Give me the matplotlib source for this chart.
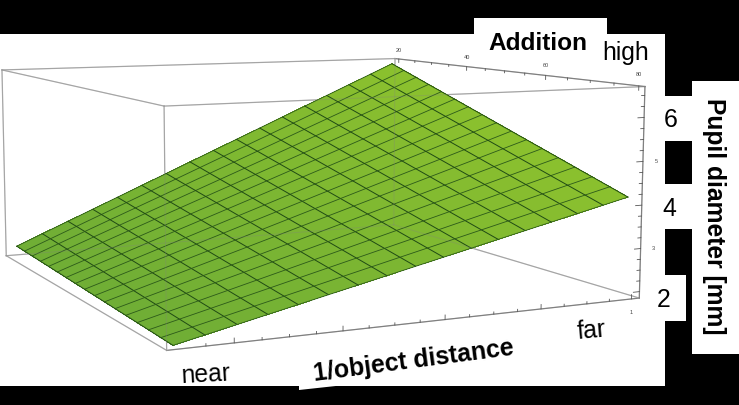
import numpy as np
import matplotlib
matplotlib.use('Agg')
import matplotlib.pyplot as plt
from matplotlib.colors import LinearSegmentedColormap
from matplotlib.patches import Polygon, Rectangle

plt.rcParams['font.family'] = ['Liberation Sans', 'DejaVu Sans']

W, H = 739, 406

# mesh lines of the surface
distance_mesh = [0.1, 0.156, 0.213, 0.269, 0.325, 0.381, 0.438, 0.494, 0.55,
                 0.606, 0.663, 0.719, 0.775, 0.831, 0.888, 0.944, 1.0]
addition_mesh = [20, 23.75, 27.5, 31.25, 35, 38.75, 42.5, 46.25, 50,
                 53.75, 57.5, 61.25, 65, 68.75, 72.5, 76.25, 80]

# pupil diameter read along the four edges of the surface
pupil_add_low = [2.12, 2.4, 2.68, 2.95, 3.23, 3.51, 3.79, 4.07, 4.35,
                 4.62, 4.9, 5.18, 5.46, 5.73, 6.01, 6.29, 6.57]
pupil_add_high = [1.88, 2.02, 2.17, 2.31, 2.45, 2.6, 2.74, 2.88, 3.03,
                  3.17, 3.31, 3.45, 3.6, 3.74, 3.88, 4.03, 4.17]
pupil_near = [2.12, 2.1, 2.09, 2.07, 2.06, 2.04, 2.03, 2.01, 2.0,
              1.98, 1.97, 1.95, 1.94, 1.92, 1.91, 1.89, 1.88]
pupil_far = [6.57, 6.42, 6.27, 6.12, 5.97, 5.82, 5.67, 5.52, 5.37,
             5.22, 5.07, 4.92, 4.77, 4.62, 4.47, 4.32, 4.17]

# axis ranges and ticks
x_lim = (0.082, 1.018)
y_lim = (18.8, 81.2)
z_lim = (1.85, 6.7)
x_ticks = [0.15, 0.2, 0.25, 0.3, 0.35, 0.4, 0.45, 0.5, 0.55, 0.6, 0.65, 0.7, 0.75, 0.8, 0.85, 0.9, 0.95, 1.0]
y_ticks = [20, 25, 30, 35, 40, 45, 50, 55, 60, 65, 70, 75, 80]
z_ticks = [2, 2.25, 2.5, 2.75, 3, 3.25, 3.5, 3.75, 4, 4.25, 4.5, 4.75, 5, 5.25, 5.5, 5.75, 6, 6.25, 6.5]

# where the corners of the box sit in the picture (camera calibration)
corners_3d = [(x_lim[0], y_lim[1], z_lim[0]), (x_lim[1], y_lim[1], z_lim[0]),
              (x_lim[1], y_lim[0], z_lim[0]), (x_lim[0], y_lim[0], z_lim[0]),
              (x_lim[0], y_lim[1], z_lim[1]), (x_lim[1], y_lim[1], z_lim[1]),
              (x_lim[1], y_lim[0], z_lim[1]), (x_lim[0], y_lim[0], z_lim[1])]
corners_px = [(167, 351), (639, 300), (394, 225), (6, 257),
              (164, 107), (645, 87), (395, 60), (2, 71)]
edges = [(0, 1), (1, 2), (2, 3), (3, 0), (4, 5), (5, 6), (6, 7), (7, 4),
         (0, 4), (1, 5), (2, 6), (3, 7)]
axis_edges = [(0, 1), (1, 5), (5, 6)]

fig = plt.figure(figsize=(W / 100, H / 100), dpi=100, facecolor='black')

# white cut-outs behind the plot, in pixels
bg = fig.add_axes([0, 0, 1, 1])
bg.set_xlim(0, W)
bg.set_ylim(H, 0)
bg.axis('off')
for x0, y0, x1, y1 in [(0, 35, 665, 387), (474, 19, 607, 40), (660, 97, 692, 142),
                       (660, 185, 692, 230), (660, 276, 686, 322), (692, 82, 739, 355)]:
    bg.add_patch(Rectangle((x0, y0), x1 - x0, y1 - y0, fc='white', ec='none'))
bg.add_patch(Polygon([(299, 386), (345, 386), (299, 391)], fc='white', ec='none'))

bg.text(538, 43, 'Addition', fontsize=17.6, fontweight='bold', ha='center', va='center')
bg.text(626, 53, 'high', fontsize=17.8, ha='center', va='center')
bg.text(671, 120, '6', fontsize=17.8, ha='center', va='center')
bg.text(669, 209, '4', fontsize=17.8, ha='center', va='center')
bg.text(664, 300, '2', fontsize=17.8, ha='center', va='center')
bg.text(714, 216, 'Pupil diameter [mm]', fontsize=17.7, fontweight='bold', rotation=-90,
        ha='center', va='center')
bg.text(414, 361, '1/object distance', fontsize=17.9, fontweight='bold', rotation=7.5,
        ha='center', va='center', rotation_mode='anchor')
bg.text(206, 375, 'near', fontsize=17.8, rotation=3, ha='center', va='center')
bg.text(591, 331, 'far', fontsize=17.8, rotation=5, ha='center', va='center')

# square axes wider than the figure height, apply_aspect keeps 3d axes square
ax = fig.add_axes([0, (1 - W / H) / 2, 1, W / H], projection='3d', proj_type='ortho',
                  computed_zorder=False)
ax.set_axis_off()
ax.patch.set_visible(False)
ax.set_xlim(*x_lim)
ax.set_ylim(*y_lim)
ax.set_zlim(*z_lim)
ax.apply_aspect()

# fit the projection to the box corners
uv = ax.transData.inverted().transform([(px, H - py) for px, py in corners_px])
rows, rhs = [], []
for (X, Y, Z), (u, v) in zip(corners_3d, uv):
    rows.append([X, Y, Z, 1, 0, 0, 0, 0, -u * X, -u * Y, -u * Z])
    rows.append([0, 0, 0, 0, X, Y, Z, 1, -v * X, -v * Y, -v * Z])
    rhs += [u, v]
p = np.linalg.lstsq(np.array(rows), np.array(rhs), rcond=None)[0]
M = np.array([p[:4], p[4:8], [0, 0.01, 0, 0], [p[8], p[9], p[10], 1]])
ax.get_proj = lambda: M

# box below the surface
for a, b in edges:
    xs, ys, zs = zip(corners_3d[a], corners_3d[b])
    col = '#808080' if (a, b) in axis_edges else '#b4b4b4'
    ax.plot(xs, ys, zs, color=col, lw=0.9, zorder=1)

# surface, slightly darker on the near side
X = np.column_stack([distance_mesh, distance_mesh])
Y = np.column_stack([[addition_mesh[0]] * 17, [addition_mesh[-1]] * 17])
Z = np.column_stack([pupil_add_low, pupil_add_high])
greens = LinearSegmentedColormap.from_list('greens', ['#70ae35', '#8cc12e'])
colors = greens((X - 0.1) / 0.9)
ax.plot_surface(X, Y, Z, facecolors=colors, rstride=1, cstride=1, shade=False,
                linewidth=0, antialiased=False, zorder=2)

# mesh lines
for i in range(17):
    ax.plot([distance_mesh[i]] * 2, [addition_mesh[0], addition_mesh[-1]],
            [pupil_add_low[i], pupil_add_high[i]], color='#1f4a14', lw=0.7, zorder=3)
    ax.plot([distance_mesh[0], distance_mesh[-1]], [addition_mesh[i]] * 2,
            [pupil_near[i], pupil_far[i]], color='#2c5a1a', lw=0.6, zorder=3)

# box seen faintly through the surface
for a, b in edges:
    xs, ys, zs = zip(corners_3d[a], corners_3d[b])
    ax.plot(xs, ys, zs, color='#808080', lw=0.7, alpha=0.3, zorder=4)

# ticks
for t in x_ticks:
    size = 0.1 if round(t * 100) % 20 == 0 else 0.05
    ax.plot([t, t], [y_lim[1]] * 2, [z_lim[0], z_lim[0] + size], color='#555555', lw=0.6, zorder=5)
for t in y_ticks:
    size = 0.1 if t % 20 == 0 else 0.05
    ax.plot([x_lim[1]] * 2, [t, t], [z_lim[1], z_lim[1] - size], color='#555555', lw=0.6, zorder=5)
for t in z_ticks:
    size = 0.014 if t == int(t) else 0.007
    ax.plot([x_lim[1], x_lim[1] - size], [y_lim[1]] * 2, [t, t], color='#555555', lw=0.6, zorder=5)

# tiny tick labels
for t, lab in zip([20, 40, 60, 80], ['20', '40', '60', '80']):
    ax.text(x_lim[1], t, z_lim[1] + 0.27, lab, fontsize=4, ha='center', va='center',
            color='#444444', zorder=6)
ax.text(1.0, y_lim[1], z_lim[0] - 0.3, '1', fontsize=4, ha='center', va='center',
        color='#444444', zorder=6)
for t, lab in zip([3, 5], ['3', '5']):
    ax.text(x_lim[1] + 0.03, y_lim[1], t, lab, fontsize=4, ha='center', va='center',
            color='#444444', zorder=6)

fig.savefig('out.png', dpi=100, facecolor='black')
